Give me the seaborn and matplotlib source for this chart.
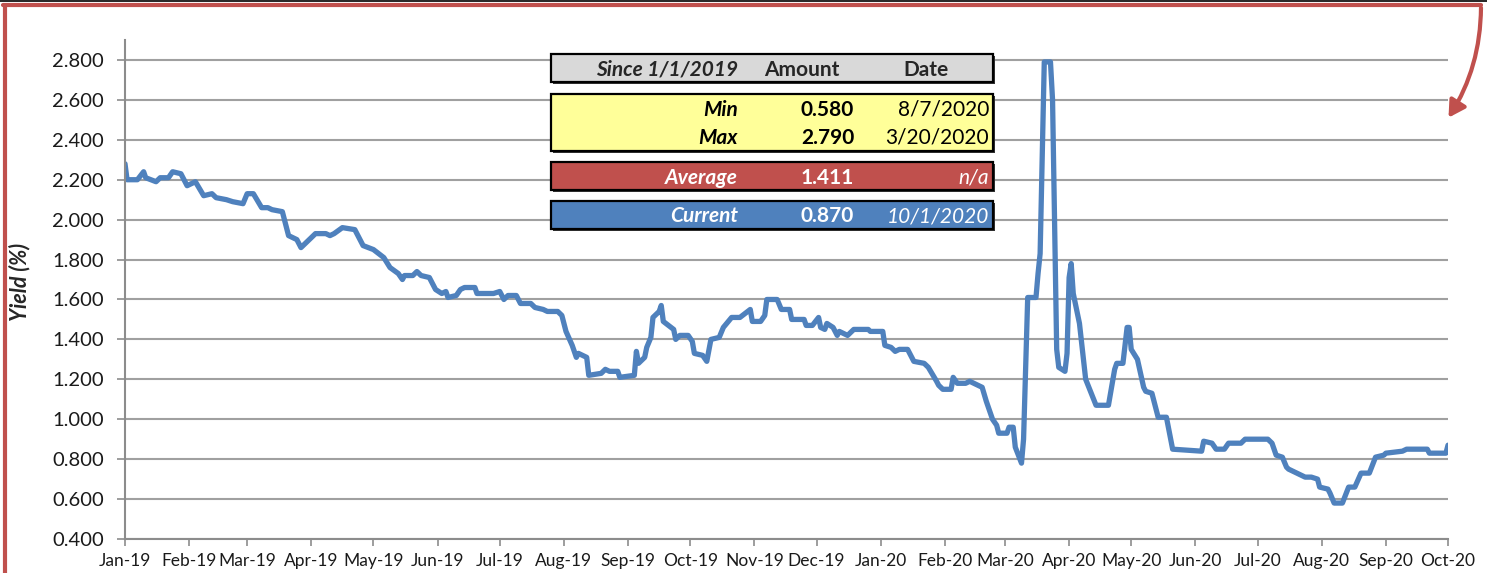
import pandas as pd
import matplotlib
matplotlib.use("Agg")
import matplotlib.pyplot as plt
import matplotlib.dates as mdates
from matplotlib.patches import Rectangle, FancyArrowPatch
from matplotlib.lines import Line2D
import seaborn as sns

# yield series
dates = [
    "2019-01-01", "2019-01-02", "2019-01-07", "2019-01-10", "2019-01-11", "2019-01-16",
    "2019-01-18", "2019-01-22", "2019-01-24", "2019-01-28", "2019-01-31", "2019-02-04",
    "2019-02-08", "2019-02-12", "2019-02-14", "2019-02-19", "2019-02-22", "2019-02-27",
    "2019-03-01", "2019-03-04", "2019-03-08", "2019-03-11", "2019-03-13", "2019-03-18",
    "2019-03-21", "2019-03-25", "2019-03-27", "2019-03-29", "2019-04-03", "2019-04-08",
    "2019-04-10", "2019-04-12", "2019-04-16", "2019-04-22", "2019-04-26", "2019-05-01",
    "2019-05-06", "2019-05-09", "2019-05-13", "2019-05-15", "2019-05-16", "2019-05-20",
    "2019-05-22", "2019-05-24", "2019-05-28", "2019-05-31", "2019-06-03", "2019-06-05",
    "2019-06-06", "2019-06-10", "2019-06-12", "2019-06-14", "2019-06-19", "2019-06-20",
    "2019-06-28", "2019-07-01", "2019-07-03", "2019-07-05", "2019-07-09", "2019-07-11",
    "2019-07-16", "2019-07-18", "2019-07-22", "2019-07-24", "2019-07-29", "2019-07-31",
    "2019-08-02", "2019-08-05", "2019-08-07", "2019-08-08", "2019-08-12", "2019-08-13",
    "2019-08-19", "2019-08-21", "2019-08-23", "2019-08-27", "2019-08-28", "2019-09-04",
    "2019-09-05", "2019-09-06", "2019-09-09", "2019-09-10", "2019-09-12", "2019-09-13",
    "2019-09-16", "2019-09-17", "2019-09-18", "2019-09-23", "2019-09-24", "2019-09-26",
    "2019-09-30", "2019-10-02", "2019-10-03", "2019-10-07", "2019-10-09", "2019-10-11",
    "2019-10-15", "2019-10-17", "2019-10-21", "2019-10-25", "2019-10-30", "2019-10-31",
    "2019-11-04", "2019-11-06", "2019-11-07", "2019-11-12", "2019-11-14", "2019-11-18",
    "2019-11-19", "2019-11-25", "2019-11-26", "2019-11-29", "2019-12-02", "2019-12-03",
    "2019-12-05", "2019-12-06", "2019-12-09", "2019-12-11", "2019-12-12", "2019-12-16",
    "2019-12-19", "2019-12-26", "2019-12-27", "2020-01-02", "2020-01-03", "2020-01-06",
    "2020-01-08", "2020-01-10", "2020-01-14", "2020-01-17", "2020-01-22", "2020-01-24",
    "2020-01-28", "2020-01-29", "2020-01-31", "2020-02-04", "2020-02-05", "2020-02-07",
    "2020-02-11", "2020-02-13", "2020-02-19", "2020-02-21", "2020-02-24", "2020-02-26",
    "2020-02-27", "2020-03-02", "2020-03-03", "2020-03-05", "2020-03-06", "2020-03-09",
    "2020-03-10", "2020-03-12", "2020-03-16", "2020-03-17", "2020-03-18", "2020-03-20",
    "2020-03-23", "2020-03-24", "2020-03-26", "2020-03-27", "2020-03-30", "2020-03-31",
    "2020-04-01", "2020-04-02", "2020-04-03", "2020-04-06", "2020-04-09", "2020-04-14",
    "2020-04-20", "2020-04-23", "2020-04-24", "2020-04-27", "2020-04-29", "2020-04-30",
    "2020-05-01", "2020-05-04", "2020-05-07", "2020-05-08", "2020-05-11", "2020-05-14",
    "2020-05-18", "2020-05-21", "2020-06-04", "2020-06-05", "2020-06-09", "2020-06-11",
    "2020-06-15", "2020-06-17", "2020-06-23", "2020-06-25", "2020-07-06", "2020-07-08",
    "2020-07-10", "2020-07-13", "2020-07-15", "2020-07-16", "2020-07-20", "2020-07-24",
    "2020-07-27", "2020-07-30", "2020-07-31", "2020-08-04", "2020-08-05", "2020-08-07",
    "2020-08-11", "2020-08-14", "2020-08-17", "2020-08-20", "2020-08-24", "2020-08-27",
    "2020-08-31", "2020-09-01", "2020-09-09", "2020-09-11", "2020-09-21", "2020-09-22",
    "2020-09-30", "2020-10-01",
]
yields = [
    2.28, 2.20, 2.20, 2.24, 2.21, 2.19,
    2.21, 2.21, 2.24, 2.23, 2.17, 2.19,
    2.12, 2.13, 2.11, 2.10, 2.09, 2.08,
    2.13, 2.13, 2.06, 2.06, 2.05, 2.04,
    1.92, 1.90, 1.86, 1.88, 1.93, 1.93,
    1.92, 1.93, 1.96, 1.95, 1.87, 1.85,
    1.81, 1.76, 1.73, 1.70, 1.72, 1.72,
    1.74, 1.72, 1.71, 1.65, 1.63, 1.64,
    1.61, 1.62, 1.65, 1.66, 1.66, 1.63,
    1.63, 1.64, 1.60, 1.62, 1.62, 1.58,
    1.58, 1.56, 1.55, 1.54, 1.54, 1.52,
    1.44, 1.37, 1.31, 1.33, 1.31, 1.22,
    1.23, 1.25, 1.24, 1.24, 1.21, 1.22,
    1.34, 1.28, 1.31, 1.36, 1.41, 1.51,
    1.54, 1.57, 1.49, 1.45, 1.40, 1.42,
    1.42, 1.39, 1.33, 1.32, 1.29, 1.40,
    1.41, 1.46, 1.51, 1.51, 1.55, 1.49,
    1.49, 1.52, 1.60, 1.60, 1.55, 1.55,
    1.50, 1.50, 1.47, 1.47, 1.51, 1.46,
    1.45, 1.48, 1.46, 1.42, 1.44, 1.42,
    1.45, 1.45, 1.44, 1.44, 1.37, 1.36,
    1.34, 1.35, 1.35, 1.29, 1.28, 1.26,
    1.19, 1.17, 1.15, 1.15, 1.21, 1.18,
    1.18, 1.19, 1.16, 1.09, 1.00, 0.97,
    0.93, 0.93, 0.96, 0.96, 0.86, 0.78,
    0.90, 1.61, 1.61, 1.73, 1.83, 2.79,
    2.79, 2.60, 1.35, 1.26, 1.24, 1.33,
    1.71, 1.78, 1.63, 1.48, 1.20, 1.07,
    1.07, 1.25, 1.28, 1.28, 1.46, 1.46,
    1.35, 1.30, 1.16, 1.14, 1.13, 1.01,
    1.01, 0.85, 0.84, 0.89, 0.88, 0.85,
    0.85, 0.88, 0.88, 0.90, 0.90, 0.88,
    0.82, 0.81, 0.76, 0.75, 0.73, 0.71,
    0.71, 0.70, 0.66, 0.65, 0.63, 0.58,
    0.58, 0.66, 0.66, 0.73, 0.73, 0.81,
    0.82, 0.83, 0.84, 0.85, 0.85, 0.83,
    0.83, 0.87,
]

y_ticks = [0.4, 0.6, 0.8, 1.0, 1.2, 1.4, 1.6, 1.8, 2.0, 2.2, 2.4, 2.6, 2.8]

# summary table
table_header = ["Since 1/1/2019", "Amount", "Date"]
row_labels = ["Min", "Max", "Average", "Current"]
row_amounts = ["0.580", "2.790", "1.411", "0.870"]
row_dates = ["8/7/2020", "3/20/2020", "n/a", "10/1/2020"]

LINE_BLUE = "#4F81BD"
RED = "#C0504D"
W, H = 1487, 573

sns.set_theme(style="white")
plt.rcParams["font.family"] = ["Lato", "DejaVu Sans"]

df = pd.DataFrame({"date": pd.to_datetime(dates), "yield": yields})

fig = plt.figure(figsize=(W / 100, H / 100), dpi=100)
ax = fig.add_axes([125 / W, 1 - 539 / H, (1448 - 125) / W, (539 - 40) / H])

ax.yaxis.grid(True, color="#A0A0A0", linewidth=1.5)
ax.set_axisbelow(True)
sns.lineplot(data=df, x="date", y="yield", ax=ax, color=LINE_BLUE, linewidth=3.8)

ax.set_xlim(pd.Timestamp("2019-01-01"), pd.Timestamp("2020-10-01"))
ax.set_ylim(0.4, 2.9)
ax.set_yticks(y_ticks)
ax.yaxis.set_major_formatter(plt.FormatStrFormatter("%.3f"))
ax.xaxis.set_major_locator(mdates.MonthLocator())
ax.xaxis.set_major_formatter(mdates.DateFormatter("%b-%y"))
ax.set_xlabel("")
ax.set_ylabel("")
for s in ["top", "right"]:
    ax.spines[s].set_visible(False)
for s in ["left", "bottom"]:
    ax.spines[s].set_color("#8C8C8C")
    ax.spines[s].set_linewidth(1.5)
ax.tick_params(axis="y", direction="out", length=6, width=1.2, color="#8C8C8C",
               labelsize=14.5, pad=9, labelcolor="#1A1A1A")
ax.tick_params(axis="x", direction="out", length=5, width=1.2, color="#8C8C8C",
               labelsize=12.5, pad=5, labelcolor="#1A1A1A")
ax.tick_params(left=True, bottom=True)

fig.text(20 / W, 1 - 282 / H, "Yield (%)", rotation=90, fontsize=15.5,
         fontweight="bold", fontstyle="italic", ha="center", va="center")


def fx(x):
    return x / W


def fy(y):
    return 1 - y / H


def box(y0, y1, color):
    fig.add_artist(Rectangle((fx(553), fy(y1 + 2)), fx(993) - fx(551), fy(y0) - fy(y1),
                             transform=fig.transFigure, facecolor="#333333",
                             edgecolor="none", zorder=4))
    fig.add_artist(Rectangle((fx(551), fy(y1)), fx(993) - fx(551), fy(y0) - fy(y1),
                             transform=fig.transFigure, facecolor=color,
                             edgecolor="black", linewidth=1.6, zorder=5))


box(54, 82, "#D9D9D9")
box(94, 151, "#FFFF99")
box(162, 190, RED)
box(201, 229, LINE_BLUE)

fs = 15
fig.text(fx(738), fy(70), table_header[0], fontsize=fs, fontweight="bold",
         fontstyle="italic", ha="right", va="center", zorder=6)
fig.text(fx(802), fy(70), table_header[1], fontsize=fs, fontweight="bold",
         ha="center", va="center", zorder=6)
fig.text(fx(926), fy(70), table_header[2], fontsize=fs, fontweight="bold",
         ha="center", va="center", zorder=6)

row_y = [110, 138, 178, 216]
row_color = ["black", "black", "white", "white"]
row_date_style = ["normal", "normal", "italic", "italic"]
for i in range(4):
    c = row_color[i]
    fig.text(fx(738), fy(row_y[i]), row_labels[i], fontsize=fs, fontweight="bold",
             fontstyle="italic", ha="right", va="center", color=c, zorder=6)
    fig.text(fx(854), fy(row_y[i]), row_amounts[i], fontsize=fs, fontweight="bold",
             ha="right", va="center", color=c, zorder=6)
    fig.text(fx(989), fy(row_y[i]), row_dates[i], fontsize=fs,
             fontstyle=row_date_style[i], ha="right", va="center", color=c, zorder=6)

# frame and arrow
fig.add_artist(Line2D([0, 1], [fy(1), fy(1)], transform=fig.transFigure,
                      color="black", linewidth=1.2))
fig.add_artist(Line2D([fx(3), fx(1481)], [fy(5), fy(5)], transform=fig.transFigure,
                      color=RED, linewidth=3))
fig.add_artist(Line2D([fx(5), fx(5)], [fy(5), 0], transform=fig.transFigure,
                      color=RED, linewidth=3))
fig.add_artist(FancyArrowPatch((fx(1481), fy(5)), (fx(1447), fy(120)),
                               transform=fig.transFigure, connectionstyle="arc3,rad=-0.15",
                               arrowstyle="-|>,head_length=0.7,head_width=0.4",
                               mutation_scale=14, color=RED, linewidth=3))

fig.savefig("out.png", dpi=100)
